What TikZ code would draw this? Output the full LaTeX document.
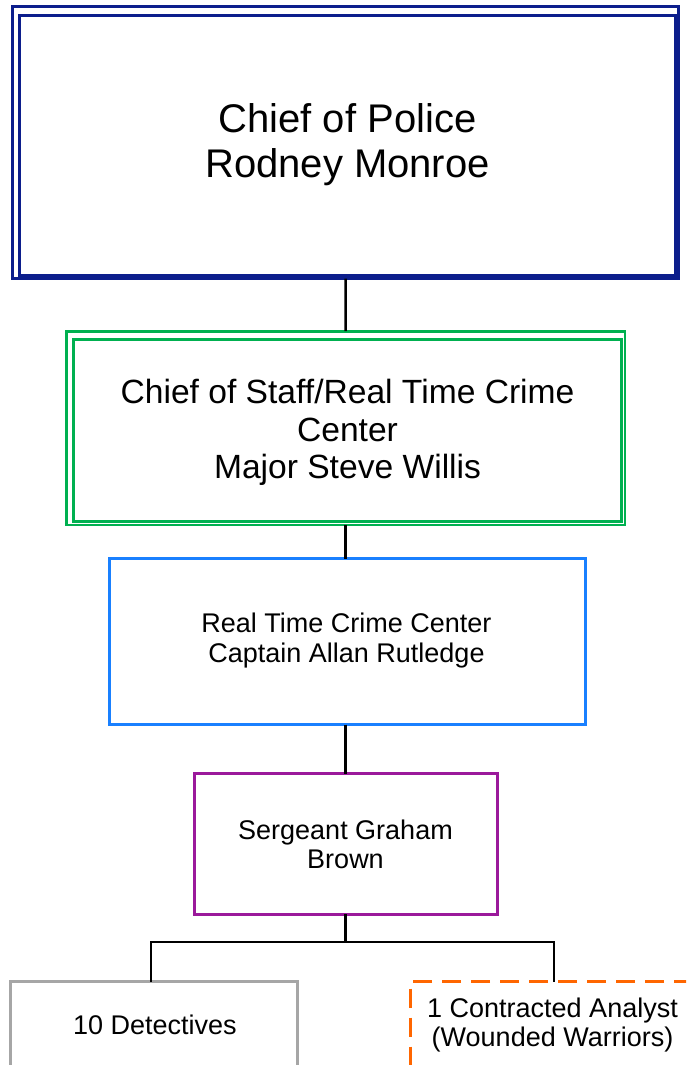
\documentclass[tikz,border=0pt]{standalone}
\usepackage{fontspec}
\setmainfont{Liberation Sans}
\definecolor{navyframe}{RGB}{12,30,140}
\definecolor{greenframe}{RGB}{0,176,80}
\definecolor{blueframe}{RGB}{25,128,255}
\definecolor{purpleframe}{RGB}{155,25,155}
\definecolor{grayframe}{RGB}{166,166,166}
\definecolor{orangeframe}{RGB}{255,102,0}
\begin{document}
\begin{tikzpicture}[x=1pt,y=-1pt,
  box/.style={draw, rectangle, inner sep=0pt, outer sep=0pt, align=center, text=black},
  chiefbox/.style={box, draw=navyframe, line width=3pt},
  staffbox/.style={box, draw=greenframe, line width=2.8pt},
  rtccbox/.style={box, draw=blueframe, line width=3pt},
  sgtbox/.style={box, draw=purpleframe, line width=3pt},
  detbox/.style={box, draw=grayframe, line width=3pt},
  analystbox/.style={box, draw=orangeframe, line width=3pt, dash pattern=on 19pt off 10pt, dash phase=6pt},
  conn/.style={draw=black, line width=2.5pt, line join=miter},
  bigtext/.style={font=\fontsize{40}{45}\selectfont},
  midtext/.style={font=\fontsize{33.6}{37.5}\selectfont},
  smalltext/.style={font=\fontsize{27}{29.5}\selectfont}
]
\useasboundingbox (0,0) rectangle (686,1065);
\clip (0,0) rectangle (686,1065);

% Chief of Police: double navy frame
\node[chiefbox, minimum width=665.7pt, minimum height=272.3pt] (chief) at (345.65,142.35) {};
\node[chiefbox, minimum width=655.2pt, minimum height=259.5pt] (chiefin) at (347.4,145.25) {};
\node[bigtext, align=center, inner sep=0pt] (chieftext) at (347.5,145) {Chief of Police\\Rodney Monroe};

% Chief of Staff: double green frame
\node[staffbox, minimum width=558.8pt, minimum height=193.8pt] (staff) at (345.6,428.1) {};
\node[staffbox, minimum width=548.2pt, minimum height=181.7pt] (staffin) at (347.4,430.65) {};
\node[midtext, align=center, inner sep=0pt] (stafftext) at (347.5,432.5) {Chief of Staff/Real Time Crime\\Center\\Major Steve Willis};

% Real Time Crime Center
\node[rtccbox, minimum width=475.5pt, minimum height=166pt] (rtcc) at (347.25,641.5) {};
\node[smalltext, align=center, inner sep=0pt] (rtcctext) at (346.5,640.5) {Real Time Crime Center\\Captain Allan Rutledge};

% Sergeant
\node[sgtbox, minimum width=303pt, minimum height=140.2pt] (sgt) at (345.5,843.9) {};
\node[smalltext, align=center, inner sep=0pt] (sgttext) at (345.5,844.5) {Sergeant Graham\\Brown};

% Bottom row, running past the lower edge
\node[detbox, minimum width=287.5pt, minimum height=86pt] (det) at (153.75,1024.7) {};
\node[smalltext, inner sep=0pt] (dettext) at (155,1025) {10 Detectives};
\node[analystbox, minimum width=284pt, minimum height=86pt] (ana) at (552,1024.7) {};
\node[smalltext, align=center, inner sep=0pt] (anatext) at (552.5,1025) {1 Contracted Analyst\\(Wounded Warriors)};

% Connectors
\draw[conn] (chief.south) -- (staff.north);
\draw[conn] (staff.south) -- (staff.south |- rtcc.north);
\draw[conn] (sgt.north |- rtcc.south) -- (sgt.north);
\coordinate (bl) at (151,942);
\coordinate (br) at (554,942);
\draw[conn] (sgt.south) -- (sgt.south |- bl);
\draw[conn] (bl |- det.north) -- (bl) -- (br) -- (br |- ana.north);
\end{tikzpicture}
\end{document}
